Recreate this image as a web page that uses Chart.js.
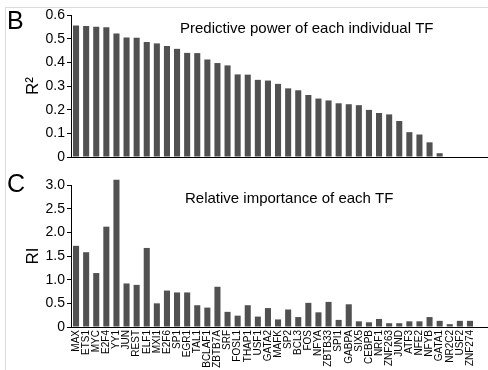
<!DOCTYPE html>
<html lang="en">
<head>
<meta charset="UTF-8">
<title>TF predictive power and relative importance</title>
<script src="https://cdn.jsdelivr.net/npm/chart.js@4.4.1/dist/chart.umd.min.js"></script>
<style>
  html, body { margin: 0; padding: 0; background: #fff; }
  .page { position: relative; width: 488px; height: 370px; overflow: hidden; }
  .frame { position: absolute; left: 5px; top: 7px; right: 0; bottom: 0;
           border-top: 1px solid #dcdcdc; border-left: 1px solid #dcdcdc; }
  #panelB { position: absolute; left: 0; top: 0; }
  #panelC { position: absolute; left: 0; top: 170px; }
</style>
</head>
<body>
<div class="page">
  <div class="frame"></div>
  <canvas id="panelB" width="488" height="170"></canvas>
  <canvas id="panelC" width="488" height="200"></canvas>
</div>
<script>
// transcription factors, same order in both panels
const tfNames = ['MAX', 'ETS1', 'MYC', 'E2F4', 'YY1', 'JUN', 'REST', 'ELF1', 'MXI1', 'E2F6',
  'SP1', 'EGR1', 'TAL1', 'BCLAF1', 'ZBTB7A', 'SRF', 'FOSL1', 'THAP1', 'USF1', 'GATA2',
  'MAFK', 'SP2', 'BCL3', 'FOS', 'NFYA', 'ZBTB33', 'SPI1', 'GABPA', 'SIX5', 'CEBPB',
  'NRF1', 'ZNF263', 'JUND', 'ATF3', 'NFE2', 'NFYB', 'GATA1', 'NR2C2', 'USF2', 'ZNF274'];

// B: R^2 of each TF alone
const r2Values = [0.556, 0.553, 0.550, 0.548, 0.522, 0.505, 0.504, 0.486, 0.480, 0.469,
  0.457, 0.440, 0.439, 0.412, 0.397, 0.387, 0.349, 0.348, 0.326, 0.323,
  0.309, 0.290, 0.282, 0.262, 0.247, 0.239, 0.227, 0.223, 0.219, 0.199,
  0.186, 0.180, 0.152, 0.105, 0.095, 0.062, 0.016, 0, 0, 0];

// C: relative importance
const riValues = [1.715, 1.58, 1.14, 2.12, 3.11, 0.92, 0.89, 1.67, 0.50, 0.77,
  0.73, 0.73, 0.46, 0.41, 0.85, 0.32, 0.24, 0.46, 0.22, 0.40,
  0.16, 0.37, 0.21, 0.51, 0.31, 0.53, 0.15, 0.48, 0.12, 0.10,
  0.17, 0.08, 0.08, 0.12, 0.12, 0.21, 0.13, 0.06, 0.13, 0.13];

const r2Ticks = { min: 0, max: 0.6, step: 0.1 };
const riTicks = { min: 0, max: 3.0, step: 0.5 };

const FONT = "'Liberation Sans', Arial, Helvetica, sans-serif";
const BAR = '#515151';

// panel letter, caption inside the plot, and the x axis line running to the edge
const panelText = {
  id: 'panelText',
  afterDraw(chart, args, opts) {
    const ctx = chart.ctx;
    const area = chart.chartArea;
    ctx.save();
    ctx.fillStyle = '#000';
    ctx.textBaseline = 'alphabetic';
    ctx.font = '25px ' + FONT;
    ctx.fillText(opts.letter, 7, opts.letterY);
    ctx.font = '15px ' + FONT;
    ctx.fillText(opts.caption, opts.captionX, 33);
    ctx.strokeStyle = '#000';
    ctx.lineWidth = 1;
    ctx.beginPath();
    ctx.moveTo(area.right, area.bottom + 0.5);
    ctx.lineTo(chart.width, area.bottom + 0.5);
    ctx.stroke();
    ctx.restore();
  }
};

function tickText(v) {
  return v === 0 ? '0' : Number(v).toFixed(1);
}

function makePanel(id, values, range, yTitle, showNames, text) {
  const ctx = document.getElementById(id).getContext('2d');
  return new Chart(ctx, {
    type: 'bar',
    data: {
      labels: tfNames,
      datasets: [{
        data: values,
        backgroundColor: BAR,
        borderWidth: 0,
        categoryPercentage: 1,
        barPercentage: 0.6,
        clip: false
      }]
    },
    plugins: [panelText],
    options: {
      responsive: false,
      animation: false,
      layout: { padding: { top: 15, right: 13, left: 0, bottom: 0 } },
      plugins: {
        legend: { display: false },
        tooltip: { enabled: false },
        panelText: text
      },
      scales: {
        x: {
          grid: { display: true, drawOnChartArea: false, drawTicks: false },
          border: { display: true, color: '#000', width: 1 },
          ticks: {
            display: showNames,
            autoSkip: false,
            minRotation: 90,
            maxRotation: 90,
            padding: 3,
            color: '#000',
            font: { family: FONT, size: 10 }
          },
          afterFit(scale) { scale.height = showNames ? 43 : 13; }
        },
        y: {
          min: range.min,
          max: range.max,
          grid: { display: true, drawOnChartArea: false, drawTicks: true, tickLength: 4, color: '#000' },
          border: { display: true, color: '#000', width: 1 },
          ticks: {
            stepSize: range.step,
            padding: 2,
            color: '#000',
            font: { family: FONT, size: 14 },
            callback: tickText
          },
          title: {
            display: true,
            text: yTitle,
            color: '#000',
            font: { family: FONT, size: 17 },
            padding: { top: 23, bottom: 0 }
          },
          afterFit(scale) { scale.width = 71; }
        }
      }
    }
  });
}

makePanel('panelB', r2Values, r2Ticks, 'R²', false,
  { letter: 'B', letterY: 29, caption: 'Predictive power of each individual TF', captionX: 180 });
makePanel('panelC', riValues, riTicks, 'RI', true,
  { letter: 'C', letterY: 22, caption: 'Relative importance of each TF', captionX: 185 });
</script>
</body>
</html>
